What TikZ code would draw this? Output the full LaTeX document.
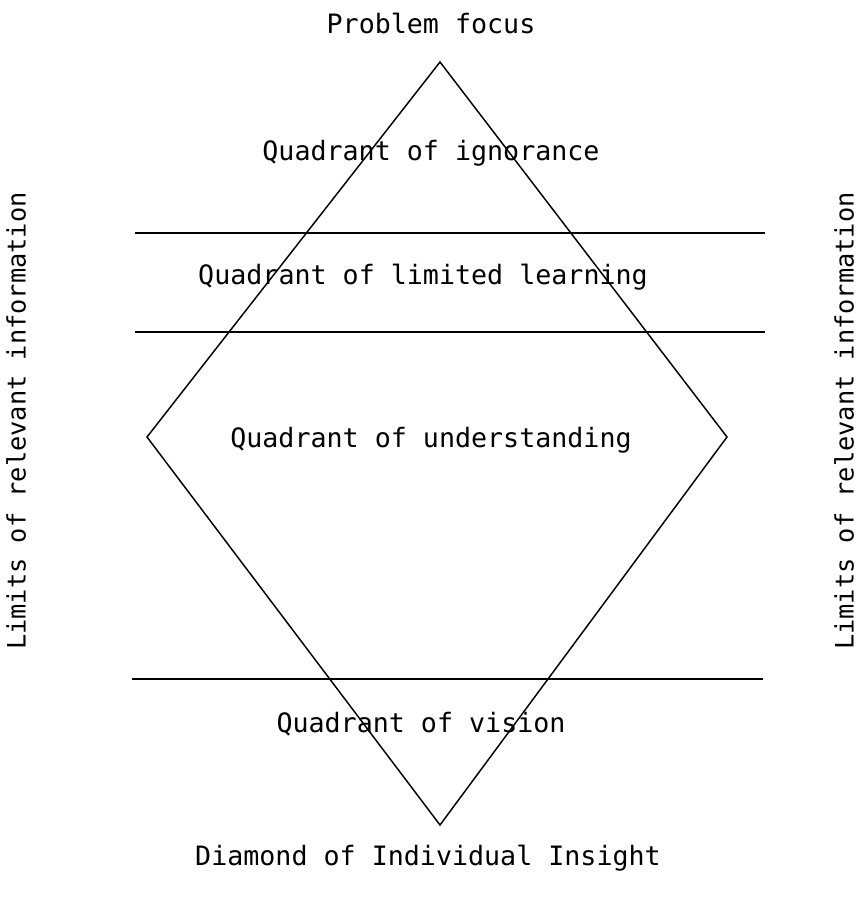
\documentclass[tikz,border=0pt]{standalone}
\usepackage{fontspec}
\setmonofont{DejaVu Sans Mono}
\usetikzlibrary{positioning}

\begin{document}
\begin{tikzpicture}[
  x=0.75pt,y=-0.75pt,
  font=\ttfamily\fontsize{20}{24}\selectfont,
  edge/.style={line width=1.1pt},
  rule/.style={line width=0.8pt},
  quad/.style={inner sep=0pt},
  side/.style={inner sep=0pt,rotate=90,font=\ttfamily\fontsize{19}{22}\selectfont}
]
\useasboundingbox (0,0) rectangle (861,903);
% diamond corners
\coordinate (top) at (440,62);
\coordinate (lft) at (147,437);
\coordinate (rgt) at (727,437);
\coordinate (bot) at (440,825);
\draw[edge] (top)--(rgt)--(bot)--(lft)--cycle;
% limits
\coordinate (l1a) at (135,233); \coordinate (l1b) at (765,233);
\coordinate (l2a) at (135,332); \coordinate (l2b) at (765,332);
\coordinate (l3a) at (132,679); \coordinate (l3b) at (763,679);
\draw[rule] (l1a)--(l1b);
\draw[rule] (l2a)--(l2b);
\draw[rule] (l3a)--(l3b);
% labels
\node[quad] (focus) at (431,23) {Problem focus};
\node[quad] (ign) at (431,153) {Quadrant of ignorance};
\node[quad] (lim) at (423,277) {Quadrant of limited learning};
\node[quad] (und) at (431,440) {Quadrant of understanding};
\node[quad] (vis) at (421,724) {Quadrant of vision};
\node[quad] (title) at (428,858) {Diamond of Individual Insight};
\node[side] (limL) at (16,421) {Limits of relevant information};
\node[side] (limR) at (844,421) {Limits of relevant information};
\end{tikzpicture}
\end{document}
